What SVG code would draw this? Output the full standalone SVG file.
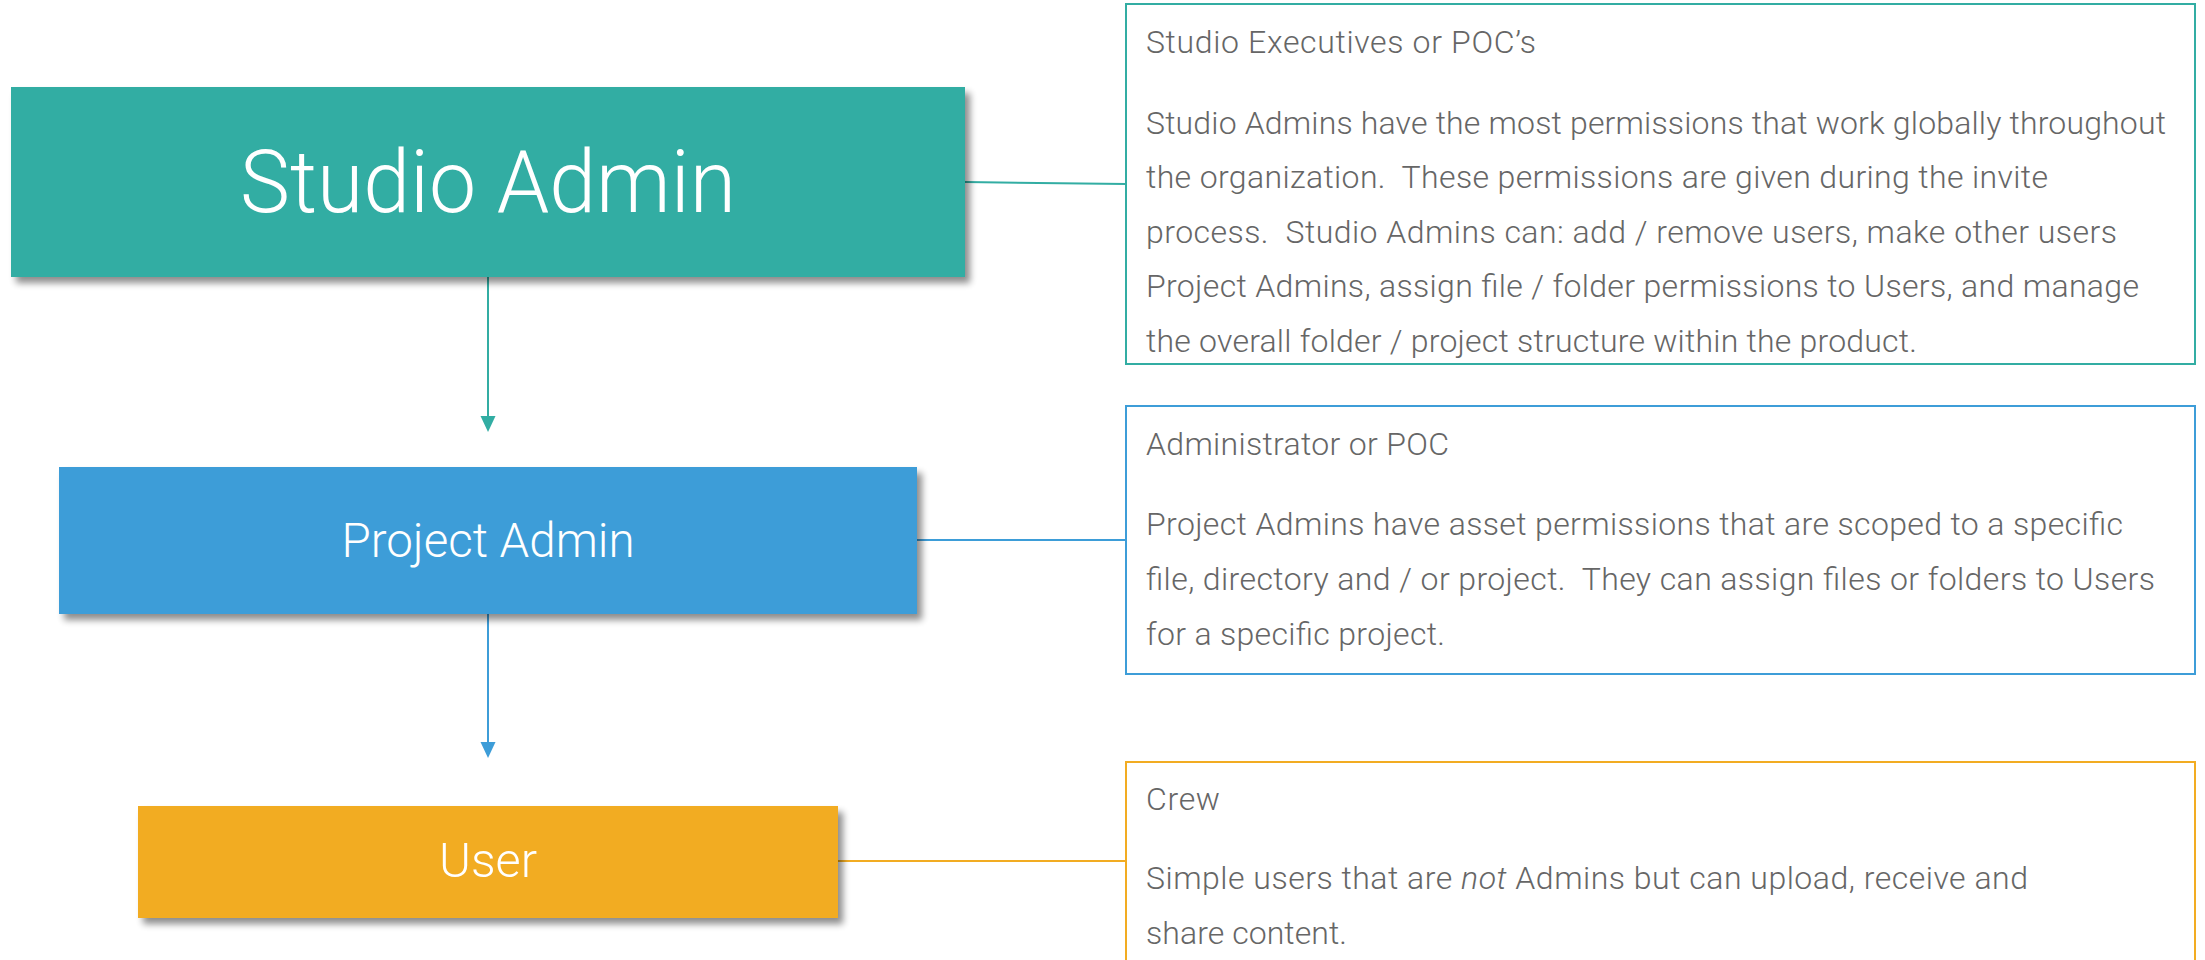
<svg xmlns="http://www.w3.org/2000/svg" width="2205" height="960" viewBox="0 0 2205 960">
  <style>
    .node-title { font-family: Roboto, "Liberation Sans", sans-serif; font-weight: 300; fill: #ffffff; text-anchor: middle; }
    .desc { font-family: Roboto, "Liberation Sans", sans-serif; font-weight: 300; font-size: 32px; fill: #666666; white-space: pre; }
    .box { fill: #ffffff; stroke-width: 2; }
    .conn { fill: none; stroke-width: 2; }
  </style>
  <defs>
    <filter id="shadow" x="-5%" y="-10%" width="115%" height="130%">
      <feGaussianBlur in="SourceAlpha" stdDeviation="3.5"/>
      <feOffset dx="5" dy="6" result="b"/>
      <feComponentTransfer><feFuncA type="linear" slope="0.45"/></feComponentTransfer>
      <feMerge><feMergeNode/><feMergeNode in="SourceGraphic"/></feMerge>
    </filter>
    <marker id="arrTeal" viewBox="0 -8 16 16" refX="2" refY="0" markerWidth="16" markerHeight="16" markerUnits="userSpaceOnUse" orient="auto">
      <path d="M0,-7.5 L16,0 L0,7.5 Z" fill="#32ada3"/>
    </marker>
    <marker id="arrBlue" viewBox="0 -8 16 16" refX="2" refY="0" markerWidth="16" markerHeight="16" markerUnits="userSpaceOnUse" orient="auto">
      <path d="M0,-7.5 L16,0 L0,7.5 Z" fill="#3d9dd8"/>
    </marker>
  </defs>
  <rect width="2205" height="960" fill="#ffffff"/>

  <g id="connectors">
    <path class="conn" d="M965,182 L1126,184" stroke="#32ada3"/>
    <path class="conn" d="M488,277 L488,418" stroke="#32ada3" marker-end="url(#arrTeal)"/>
    <path class="conn" d="M917,540 L1126,540" stroke="#3d9dd8"/>
    <path class="conn" d="M488,614 L488,744" stroke="#3d9dd8" marker-end="url(#arrBlue)"/>
    <path class="conn" d="M838,861 L1126,861" stroke="#f2ac22"/>
  </g>

  <g id="studio-admin">
    <rect x="11" y="87" width="954" height="190" fill="#32ada3" filter="url(#shadow)"/>
    <text class="node-title" x="488" y="212" font-size="87" textLength="496" lengthAdjust="spacingAndGlyphs">Studio Admin</text>
  </g>

  <g id="project-admin">
    <rect x="59" y="467" width="858" height="147" fill="#3d9dd8" filter="url(#shadow)"/>
    <text class="node-title" x="488" y="557" font-size="48" textLength="293" lengthAdjust="spacingAndGlyphs">Project Admin</text>
  </g>

  <g id="user">
    <rect x="138" y="806" width="700" height="112" fill="#f2ac22" filter="url(#shadow)"/>
    <text class="node-title" x="488" y="877" font-size="48" textLength="98" lengthAdjust="spacingAndGlyphs">User</text>
  </g>

  <g id="studio-admin-desc">
    <rect class="box" x="1126" y="4" width="1069" height="360" stroke="#32ada3"/>
    <text class="desc" x="1146" y="53" textLength="390" xml:space="preserve">Studio Executives or POC’s</text>
    <text class="desc" x="1146" y="134" textLength="1020" xml:space="preserve">Studio Admins have the most permissions that work globally throughout</text>
    <text class="desc" x="1146" y="188" textLength="902" xml:space="preserve">the organization.  These permissions are given during the invite</text>
    <text class="desc" x="1146" y="243" textLength="971" xml:space="preserve">process.  Studio Admins can: add / remove users, make other users</text>
    <text class="desc" x="1146" y="297" textLength="993" xml:space="preserve">Project Admins, assign file / folder permissions to Users, and manage</text>
    <text class="desc" x="1146" y="352" textLength="771" xml:space="preserve">the overall folder / project structure within the product.</text>
  </g>

  <g id="project-admin-desc">
    <rect class="box" x="1126" y="406" width="1069" height="268" stroke="#3d9dd8"/>
    <text class="desc" x="1146" y="455" textLength="303" xml:space="preserve">Administrator or POC</text>
    <text class="desc" x="1146" y="535" textLength="977" xml:space="preserve">Project Admins have asset permissions that are scoped to a specific</text>
    <text class="desc" x="1146" y="590" textLength="1009" xml:space="preserve">file, directory and / or project.  They can assign files or folders to Users</text>
    <text class="desc" x="1146" y="645" textLength="299" xml:space="preserve">for a specific project.</text>
  </g>

  <g id="user-desc">
    <rect class="box" x="1126" y="762" width="1069" height="240" stroke="#f2ac22"/>
    <text class="desc" x="1146" y="810" textLength="74" xml:space="preserve">Crew</text>
    <text class="desc" x="1146" y="889" textLength="882" xml:space="preserve">Simple users that are <tspan font-style="italic">not</tspan> Admins but can upload, receive and</text>
    <text class="desc" x="1146" y="944" textLength="201" xml:space="preserve">share content.</text>
  </g>
</svg>
